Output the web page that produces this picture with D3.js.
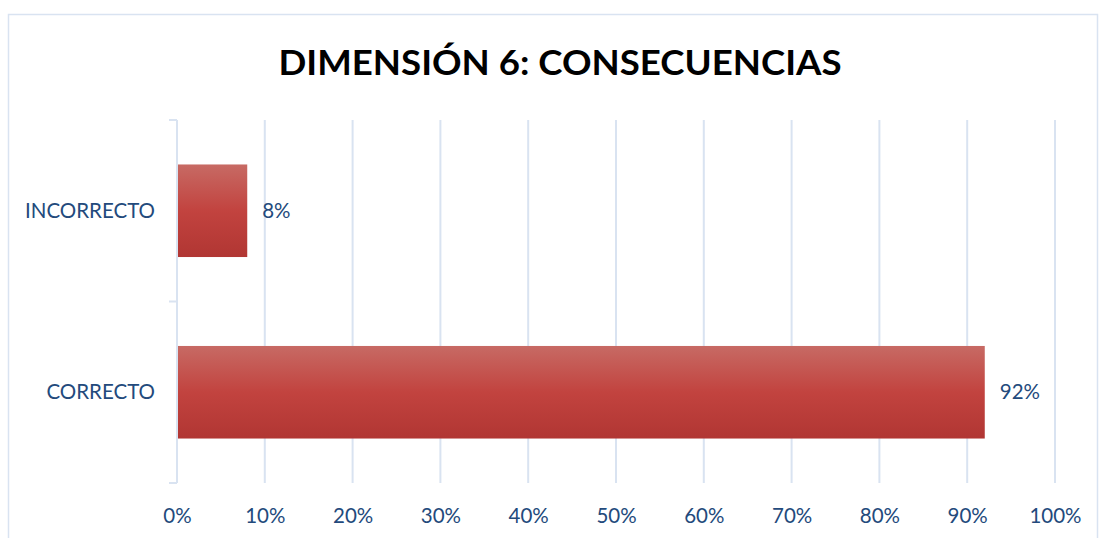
<!DOCTYPE html>
<html>
<head>
<meta charset="utf-8">
<script src="https://cdn.jsdelivr.net/npm/d3@7"></script>
<style>
  html, body { margin: 0; padding: 0; background: #ffffff; }
  svg { display: block; }
  text { font-family: Lato, "Open Sans", "Liberation Sans", sans-serif; }
</style>
</head>
<body>
<svg id="chart" width="1099" height="538"></svg>
<script>
// Chart data
const chartTitle = "DIMENSIÓN 6: CONSECUENCIAS";
const categories = ["INCORRECTO", "CORRECTO"];
const values = [0.08, 0.92];
const valueLabels = ["8%", "92%"];
const xTicks = [0, 0.1, 0.2, 0.3, 0.4, 0.5, 0.6, 0.7, 0.8, 0.9, 1.0];

const W = 1099, H = 538;
const plot = { left: 177, right: 1055, top: 120, bottom: 483 };
const gridColor = "#d9e3f1";
const textColor = "#234a7c";
const labelSize = 20.5;

const svg = d3.select("#chart");

// Gradient fill for the bars
const defs = svg.append("defs");
const grad = defs.append("linearGradient")
  .attr("id", "barFill").attr("x1", 0).attr("y1", 0).attr("x2", 0).attr("y2", 1);
grad.append("stop").attr("offset", "0%").attr("stop-color", "#c76a64");
grad.append("stop").attr("offset", "50%").attr("stop-color", "#c2433f");
grad.append("stop").attr("offset", "100%").attr("stop-color", "#b13633");

// Outer chart frame
svg.append("rect")
  .attr("x", 8.5).attr("y", 14.5)
  .attr("width", 1089).attr("height", 540)
  .attr("fill", "none").attr("stroke", gridColor).attr("stroke-width", 1.5);

// Title
svg.append("text")
  .attr("x", 560).attr("y", 75)
  .attr("text-anchor", "middle")
  .attr("font-size", 35).attr("font-weight", "bold")
  .attr("fill", "#000000")
  .attr("textLength", 563).attr("lengthAdjust", "spacingAndGlyphs")
  .text(chartTitle);

// Scales
const x = d3.scaleLinear().domain([0, 1]).range([plot.left, plot.right]);
const y = d3.scaleBand().domain(categories).range([plot.top, plot.bottom])
  .paddingInner(0.49).paddingOuter(0.245);

// Vertical gridlines
svg.append("g")
  .selectAll("line")
  .data(xTicks.slice(1))
  .join("line")
  .attr("x1", d => x(d)).attr("x2", d => x(d))
  .attr("y1", plot.top).attr("y2", plot.bottom)
  .attr("stroke", gridColor).attr("stroke-width", 2);

// X axis labels
const xAxis = d3.axisBottom(x).tickValues(xTicks).tickFormat(d3.format(".0%"))
  .tickSize(0).tickPadding(0);
const gx = svg.append("g").attr("transform", `translate(0,${plot.bottom + 33})`).call(xAxis);
gx.select(".domain").remove();
gx.selectAll("text")
  .attr("fill", textColor).attr("font-size", labelSize).attr("dy", "0.35em")
  .style("font-family", "Lato, 'Open Sans', sans-serif");

// Y axis with outer tick marks at band boundaries
const yAxisLine = svg.append("g");
yAxisLine.append("line")
  .attr("x1", plot.left).attr("x2", plot.left)
  .attr("y1", plot.top).attr("y2", plot.bottom)
  .attr("stroke", gridColor).attr("stroke-width", 2);
const boundaries = [plot.top, (plot.top + plot.bottom) / 2, plot.bottom];
yAxisLine.selectAll("line.tick")
  .data(boundaries)
  .join("line").attr("class", "tick")
  .attr("x1", plot.left - 8).attr("x2", plot.left)
  .attr("y1", d => d).attr("y2", d => d)
  .attr("stroke", gridColor).attr("stroke-width", 2);

// Category labels
svg.append("g")
  .selectAll("text")
  .data(categories)
  .join("text")
  .attr("x", plot.left - 22)
  .attr("y", d => y(d) + y.bandwidth() / 2)
  .attr("dy", "0.35em")
  .attr("text-anchor", "end")
  .attr("font-size", labelSize)
  .attr("fill", textColor)
  .text(d => d);

// Bars
svg.append("g")
  .selectAll("rect")
  .data(categories)
  .join("rect")
  .attr("x", x(0) + 1)
  .attr("y", d => y(d))
  .attr("width", (d, i) => x(values[i]) - x(0) - 1)
  .attr("height", y.bandwidth())
  .attr("fill", "url(#barFill)");

// Value labels
svg.append("g")
  .selectAll("text")
  .data(categories)
  .join("text")
  .attr("x", (d, i) => x(values[i]) + 15)
  .attr("y", d => y(d) + y.bandwidth() / 2)
  .attr("dy", "0.35em")
  .attr("font-size", labelSize)
  .attr("fill", textColor)
  .text((d, i) => valueLabels[i]);
</script>
</body>
</html>
